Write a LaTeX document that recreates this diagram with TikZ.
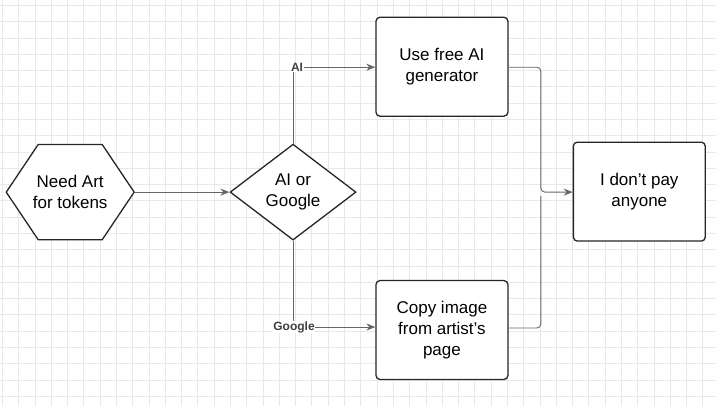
\documentclass[tikz,border=0pt]{standalone}
\usepackage{fontspec}
\setmainfont{Liberation Sans}
\usetikzlibrary{shapes.geometric,arrows.meta}
\begin{document}
\begin{tikzpicture}[x=1pt,y=-1pt,
  box/.style={draw=black!85,line width=1.3pt,rounded corners=4pt,minimum width=132pt,minimum height=99pt,align=center,font=\fontsize{17}{21}\selectfont,fill=white},
  conn/.style={draw=black!60,line width=0.9pt},
  arr/.style={conn,-{Stealth[length=9pt,width=7pt]}},
  lab/.style={font=\bfseries\fontsize{12}{14}\selectfont,text=black!75,fill=white,inner sep=0.5pt}]
\fill[white] (0,0) rectangle (716,406);
\foreach \x in {2,18.3,...,716} \draw[black!9,line width=0.5pt] (\x,0) -- (\x,406);
\foreach \y in {5,21.3,...,406} \draw[black!9,line width=0.5pt] (0,\y) -- (716,\y);
\useasboundingbox (0,0) rectangle (716,406);
\node[regular polygon,regular polygon sides=6,shape border rotate=0,draw=black!85,line width=1.3pt,fill=white,minimum size=128pt,inner sep=0pt,align=center,font=\fontsize{17}{21}\selectfont,xscale=1,yscale=0.86] (need) at (70,192) {};
\node[align=center,font=\fontsize{17}{21}\selectfont] (needt) at (70,192) {Need Art\\for tokens};
\node[diamond,draw=black!85,line width=1.3pt,fill=white,minimum width=126pt,minimum height=96pt,inner sep=0pt,align=center,font=\fontsize{17}{21}\selectfont] (dec) at (293,192) {AI or\\Google};
\node[box] (ai) at (442,66.5) {Use free AI\\generator};
\node[box] (cp) at (442,330) {Copy image\\from artist's\\page};
\node[box] (pay) at (639.5,191.5) {I don't pay\\anyone};
\coordinate (ta) at (293,67);
\coordinate (tg) at (293,327);
\draw[arr] (need.east) -- (dec.west);
\draw[conn] (dec.north) -- (ta);
\draw[arr] (ta) -- (ai.west |- ta);
\node[lab] (lai) at (297,67) {AI};
\draw[conn] (dec.south) -- (tg);
\draw[arr] (tg) -- (cp.west |- tg);
\node[lab] (lg) at (294,327) {Google};
\draw[arr,rounded corners=4pt] (ai.east |- 0,67) -- (541,67) -- (541,192) -- (pay.west |- 0,192);
\draw[conn,rounded corners=4pt] (cp.east |- 0,328) -- (541,328) -- (541,196);
\end{tikzpicture}
\end{document}
